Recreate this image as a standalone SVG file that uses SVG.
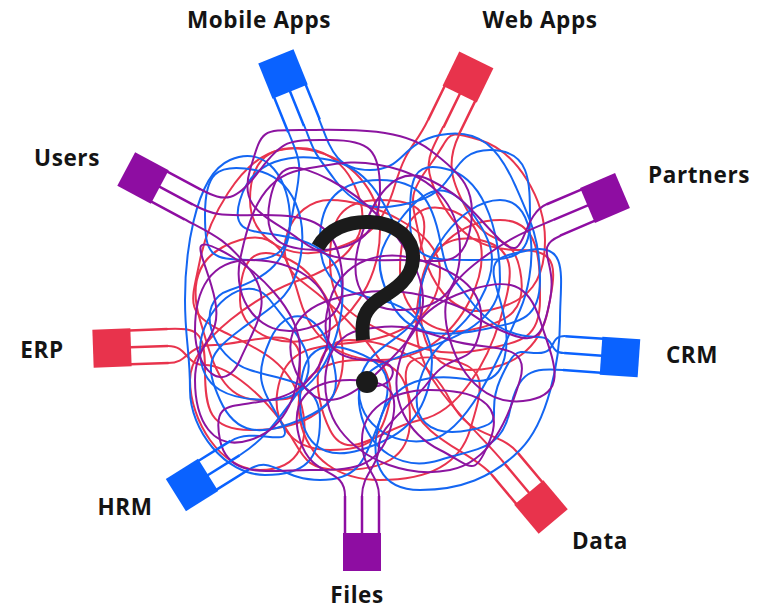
<svg xmlns="http://www.w3.org/2000/svg" xmlns:xlink="http://www.w3.org/1999/xlink" width="763" height="609" viewBox="0 0 763 609">
  <style>
    .w{fill:none;stroke-width:2;stroke-linecap:round;stroke-linejoin:round}
    .r{stroke:#e8344e}
    .b{stroke:#1466f2}
    .p{stroke:#8c14a0}
    .lbl{font-family:"Open Sans","Liberation Sans",sans-serif;font-weight:700;font-size:22.5px;letter-spacing:0.6px;fill:#141414;text-anchor:middle}
    .qm{fill:none;stroke:#1b1b1b;stroke-width:14}
  </style>
  <defs>
    <!-- plug: solid head plus three parallel prong lines running along +y -->
    <g id="plug">
      <rect x="-19" y="-19" width="38" height="38" fill="currentColor"/>
      <path d="M-17,18V56M0,18V56M17,18V56" fill="none" stroke="currentColor" stroke-width="2.5"/>
    </g>
  </defs>
  <rect width="763" height="609" fill="#ffffff"/>

  <!-- tangled wires -->
  <g id="connectors" class="w">
    <!-- red -->
    <path class="r" d="M428,120 C415,147 407,145 395,185 S370,238 330,250 S250,240 250,200 S270,142 310,150 S380,190 380,230 S362,306 330,330 S240,340 240,300 S254,242 290,260 S352,340 340,380 S290,430 250,430 S205,410 205,370 S197,328 167,329"/>
    <path class="r" d="M443,127 C430,154 420,164 440,200 S480,250 520,250 S556,270 548,310 S510,370 470,370 S420,340 420,300 S440,232 480,240 S512,280 500,320 S460,412 420,420 S348,466 330,430 S310,340 350,340 S430,360 450,400 S499,430 518,453"/>
    <path class="r" d="M459,135 C446,162 450,181 470,215 S512,230 520,270 S510,322 470,330 S400,310 400,270 S412,198 450,210 S488,264 470,300 S420,360 380,360 S312,340 300,300 S280,228 240,240 S188,280 200,320 S220,400 260,400 S300,400 300,360 S245,345 215,345 C185,345 190,363 168,363"/>
    <path class="r" d="M168,346 C188,346 185,365 205,365 S256,388 280,420 S300,470 340,470 S410,460 410,420 S400,360 360,360 S292,380 300,420 S340,480 380,480 S458,470 470,430 S490,368 450,360 S398,360 410,400 S473,452 492,475"/>
    <path class="r" d="M505,464 C486,441 464,422 440,390 S412,330 420,290 S460,220 500,220 S540,260 540,300 S520,342 480,350 S416,348 380,330 S330,300 330,260 S340,200 380,200 S432,212 420,250 S365,310 363,330"/>
    <path class="r" d="M200,260 C208,220 240,158 280,150 S348,160 360,200 S338,268 300,280 S190,340 190,380 S220,470 260,470 S312,440 300,400 S256,348 220,330 S192,300 200,260"/>
    <path class="r" d="M480,140 C518,152 545,200 545,240 S530,302 490,310 S428,280 420,240 S406,197 430,165 S442,129 480,140"/>
    <path class="r" d="M330,200 C370,200 440,230 440,270 S410,332 370,340 S292,340 280,380 S290,450 330,450 S382,440 390,400 S332,304 300,280 S290,200 330,200"/>
    <!-- blue -->
    <path class="b" d="M288,131 C299,159 303,160 295,200 S290,260 250,260 S205,255 205,215 S215,162 255,170 S308,220 300,260 S272,306 240,330 S204,364 220,400 S262,436 300,420 S342,390 330,350 S286,304 270,340 S260,386 280,420 S256,425 231,441"/>
    <path class="b" d="M304,125 C315,153 311,148 335,180 S382,212 420,200 S450,150 490,150 S530,180 530,220 S510,260 470,260 S410,260 410,220 S412,158 450,170 S500,240 500,280 S458,338 420,350 S352,370 360,410 S402,472 440,460 S502,450 510,410 S533,368 563,370"/>
    <path class="b" d="M319,119 C330,147 335,170 370,170 S400,143 440,135 S499,149 515,185 S540,240 540,280 S520,322 480,330 S406,336 390,300 S376,252 400,220 S446,178 470,210 S500,264 480,300 S432,340 420,380 S430,438 470,430 S484,416 500,380 S518,353 538,353 C558,353 548,336 565,336"/>
    <path class="b" d="M564,353 C548,353 556,337 538,337 S494,332 470,300 S448,280 440,240 S420,180 380,180 S320,200 320,240 S340,292 380,300 S438,340 430,380 S400,438 360,450 S300,440 300,400 S312,338 350,350 S396,380 380,420 S360,480 320,480 S273,454 248,470"/>
    <path class="b" d="M240,455 C265,439 276,422 300,390 S294,332 270,300 S200,310 200,350 S230,400 270,400 S332,360 340,320 S338,252 300,240 S228,240 240,200 S290,152 330,160 S385,205 398,232"/>
    <path class="b" d="M560,320 C560,360 548,422 520,450 S460,490 420,490 S368,460 380,420 S430,372 470,380 S512,340 500,300 S490,258 530,250 S560,280 560,320"/>
    <path class="b" d="M185,300 C185,260 193,176 230,160 S290,180 290,220 S268,278 230,290 S212,358 250,370 S320,380 320,420 S305,475 265,475 S190,430 190,390 S185,340 185,300"/>
    <path class="b" d="M420,300 C420,260 460,200 500,200 S536,274 520,310 S470,432 430,440 S352,420 360,380 S420,340 420,300"/>
    <!-- purple -->
    <path class="p" d="M184,219 C210,233 226,238 250,270 S256,324 240,360 S195,370 195,330 S210,260 250,260 S330,280 330,320 S310,392 270,400 S212,400 220,440 S270,470 310,470 S378,470 390,430 S390,380 350,380 S288,400 300,440 S345,466 345,496"/>
    <path class="p" d="M192,204 C218,218 225,215 265,215 S332,220 340,260 S340,322 300,330 S232,300 240,260 S260,178 300,170 S362,158 400,170 S460,210 460,250 S440,310 400,310 S348,280 360,240 S394,162 430,180 S472,212 500,240 S519,216 547,204"/>
    <path class="p" d="M200,189 C226,203 236,202 260,170 S290,140 330,140 S380,150 380,190 S360,250 320,250 S262,240 270,200 S294,162 330,180 S408,240 420,280 S408,342 380,370 S320,416 300,380 S292,312 330,300 S402,288 440,300 S464,314 500,330 S542,340 550,300 S532,248 560,236"/>
    <path class="p" d="M553,220 C525,232 512,236 480,260 S438,300 450,340 S490,408 530,400 S552,358 540,320 S508,278 470,290 S412,320 400,360 S408,434 440,450 S474,480 490,440 S470,390 430,390 S362,410 362,440 C362,470 379,474 379,496"/>
    <path class="p" d="M362,496 C362,474 379,466 379,446 S406,412 430,380 S472,370 480,330 S458,272 420,260 S342,260 330,300 S330,360 370,360 S390,395 366,384"/>
    <path class="p" d="M300,130 C340,130 398,126 430,150 S478,190 470,230 S440,260 400,260 S332,264 300,240 S238,210 250,170 S260,130 300,130"/>
    <path class="p" d="M520,380 C508,420 490,462 450,470 S364,462 340,430 S320,338 360,330 S412,328 450,340 S532,340 520,380"/>
    <path class="p" d="M220,250 C256,268 300,310 300,350 S288,428 250,440 S195,420 195,380 S223,340 215,300 S184,232 220,250"/>
  </g>

  <!-- question mark -->
  <g id="question-mark">
    <path class="qm" d="M318,247 C328,229 348,221 370,222 C396,223 414,238 413,259 C412,280 392,291 378,300 C364,310 361,320 363,340"/>
    <circle cx="367" cy="382" r="11" fill="#1b1b1b"/>
  </g>

  <!-- plugs and their labels -->
  <g id="mobile-apps">
    <use xlink:href="#plug" href="#plug" color="#0a62ff" transform="translate(283,74) rotate(-22)"/>
    <text class="lbl" x="259" y="28">Mobile Apps</text>
  </g>
  <g id="web-apps">
    <use xlink:href="#plug" href="#plug" color="#e8334c" transform="translate(468,77) rotate(26)"/>
    <text class="lbl" x="540" y="28">Web Apps</text>
  </g>
  <g id="users">
    <use xlink:href="#plug" href="#plug" color="#8e0da2" transform="translate(143,178) rotate(-62)"/>
    <text class="lbl" x="67" y="166">Users</text>
  </g>
  <g id="partners">
    <use xlink:href="#plug" href="#plug" color="#8e0da2" transform="translate(605,198) rotate(67)"/>
    <text class="lbl" x="699" y="183">Partners</text>
  </g>
  <g id="erp">
    <use xlink:href="#plug" href="#plug" color="#e8334c" transform="translate(112,348) rotate(-92)"/>
    <text class="lbl" x="42" y="358">ERP</text>
  </g>
  <g id="crm">
    <use xlink:href="#plug" href="#plug" color="#0a62ff" transform="translate(620,357) rotate(94)"/>
    <text class="lbl" x="692" y="363">CRM</text>
  </g>
  <g id="hrm">
    <use xlink:href="#plug" href="#plug" color="#0a62ff" transform="translate(192,485) rotate(-122)"/>
    <text class="lbl" x="125" y="515">HRM</text>
  </g>
  <g id="files">
    <use xlink:href="#plug" href="#plug" color="#8e0da2" transform="translate(362,552) rotate(180)"/>
    <text class="lbl" x="357" y="603">Files</text>
  </g>
  <g id="data">
    <use xlink:href="#plug" href="#plug" color="#e8334c" transform="translate(541,507) rotate(140)"/>
    <text class="lbl" x="600" y="549">Data</text>
  </g>
</svg>
